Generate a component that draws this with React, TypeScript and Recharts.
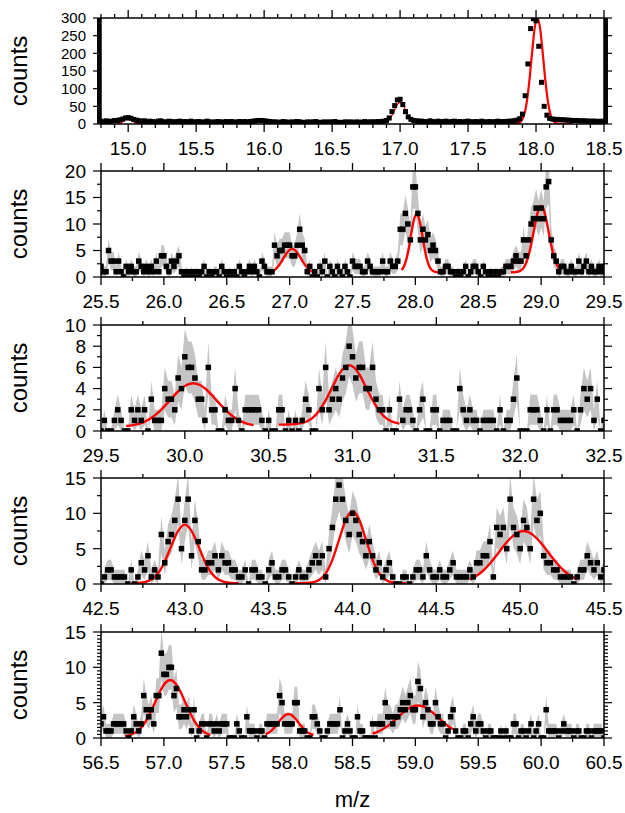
import React from 'react';
import { ComposedChart, Line, Area, XAxis, YAxis } from 'recharts';

const FONT = '"Liberation Sans", Arial, Helvetica, sans-serif';

// ---------- Panel 1 (m/z 14.8 - 18.5), counts every 0.02 ----------
const P1_X0 = 14.8;
const P1_STEP = 0.02;
const P1_COUNTS = [
  8, 6, 9, 7, 8, 10,
  10, 12, 14, 17, 18, 16, 13, 11, 9, 8,
  9, 6, 8, 7, 5, 8, 9, 6, 6, 8, 7, 5, 7, 8, 6, 7, 5, 8, 6, 6, 7, 5, 6, 8, 6, 5, 6, 7, 6, 5, 7, 6, 7, 5, 6, 7, 6, 7, 5,
  7, 8, 9, 10, 10, 9, 8, 7, 6,
  6, 5, 5, 7, 6, 4, 6, 5, 7, 6, 5, 4, 6, 5, 6, 7, 5, 4, 6, 5, 6, 5, 7, 5, 4, 5, 6, 5, 6, 4, 6, 5, 5, 7, 5, 6, 6, 6, 7, 7, 8, 10,
  17, 35, 52, 68, 70, 55, 35, 20, 13, 10, 9, 8,
  8, 7, 6, 9, 7, 6, 8, 6, 7, 8, 5, 7, 8, 6, 7, 5, 7, 8, 6, 6, 7, 5, 8, 6, 6, 7, 5, 7, 8, 6, 7, 7, 8, 8, 9, 11,
  15, 28, 80, 170, 270, 298, 292, 220, 118, 50, 25, 16, 14, 13, 13, 12, 12, 11, 11, 10, 10, 10, 9, 9, 9, 8, 8, 8, 8, 7, 8, 7,
];
const P1_X_MAJOR = [15.0, 15.5, 16.0, 16.5, 17.0, 17.5, 18.0, 18.5];
const P1_Y_MAJOR = [0, 50, 100, 150, 200, 250, 300];

// ---------- Panel 2 (m/z 25.5 - 29.5) ----------
const P2_X0 = 25.5;
const P2_STEP = 0.02;
const P2_COUNTS = [
  2, 1, 1, 5, 3, 3, 1, 3, 1, 0,
  2, 1, 2, 1, 1, 3, 2, 1, 2, 1,
  2, 1, 3, 1, 4, 4, 2, 1, 3, 2,
  3, 4, 1, 0, 1, 0, 1, 0, 1, 0,
  1, 2, 0, 1, 0, 1, 1, 0, 2, 1,
  0, 1, 0, 1, 0, 2, 1, 0, 1, 2,
  1, 2, 1, 0, 3, 2, 1, 1, 1, 6,
  4, 5, 5, 6, 6, 6, 4, 4, 6, 9,
  6, 5, 1, 2, 0, 1, 0, 2, 1, 3,
  0, 2, 1, 0, 2, 1, 0, 2, 1, 0,
  3, 2, 2, 2, 1, 1, 3, 2, 1, 1,
  1, 1, 3, 1, 1, 3, 2, 2, 3, 9,
  9, 12, 10, 7, 17, 17, 12, 7, 9, 7,
  8, 5, 6, 5, 3, 1, 1, 2, 2, 1,
  1, 0, 1, 0, 1, 2, 0, 1, 2, 2,
  1, 0, 2, 1, 0, 1, 0, 1, 0, 1,
  1, 2, 2, 2, 3, 4, 3, 3, 7, 4,
  7, 10, 11, 13, 11, 13, 11, 17, 18, 7,
  4, 3, 1, 2, 2, 1, 1, 2, 1, 1,
  3, 1, 2, 3, 1, 2, 1, 1, 2, 1,
  2,
];
const P2_X_MAJOR = [25.5, 26.0, 26.5, 27.0, 27.5, 28.0, 28.5, 29.0, 29.5];
const P2_Y_MAJOR = [0, 5, 10, 15, 20];

// ---------- Panel 3 (m/z 29.5 - 32.5) ----------
const P3_X0 = 29.5;
const P3_STEP = 0.02;
const P3_COUNTS = [
  0, 1, 0, 0, 1, 2, 1, 0, 0, 2,
  1, 2, 1, 2, 0, 3, 1, 1, 1, 4,
  3, 3, 2, 5, 4, 7, 6, 6, 5, 3,
  3, 1, 6, 2, 2, 0, 0, 2, 1, 1,
  4, 1, 0, 2, 2, 2, 2, 2, 1, 0,
  1, 0, 0, 2, 2, 0, 1, 0, 1, 0,
  1, 3, 2, 0, 0, 4, 2, 6, 2, 3,
  4, 3, 5, 6, 8, 7, 5, 6, 6, 4,
  4, 6, 3, 2, 2, 0, 2, 0, 0, 3,
  1, 2, 2, 1, 0, 2, 3, 0, 0, 2,
  2, 0, 1, 1, 1, 0, 0, 4, 2, 1,
  2, 1, 1, 0, 1, 1, 1, 1, 0, 2,
  0, 1, 1, 3, 5, 0, 0, 0, 2, 2,
  2, 1, 0, 2, 0, 2, 2, 1, 1, 1,
  1, 2, 0, 2, 4, 3, 4, 1, 3, 0,
  1,
];
const P3_X_MAJOR = [29.5, 30.0, 30.5, 31.0, 31.5, 32.0, 32.5];
const P3_Y_MAJOR = [0, 2, 4, 6, 8, 10];

// ---------- Panel 4 (m/z 42.5 - 45.5) ----------
const P4_X0 = 42.5;
const P4_STEP = 0.02;
const P4_COUNTS = [
  0, 1, 2, 2, 1, 1, 1, 1, 0, 2,
  0, 1, 3, 2, 4, 1, 2, 1, 7, 3,
  6, 7, 9, 12, 5, 9, 12, 4, 9, 6,
  2, 2, 3, 3, 4, 2, 4, 3, 3, 2,
  2, 1, 1, 2, 0, 2, 2, 1, 1, 0,
  2, 3, 1, 1, 2, 2, 1, 0, 1, 2,
  1, 1, 2, 3, 4, 3, 4, 1, 5, 8,
  12, 14, 12, 9, 7, 10, 9, 7, 6, 4,
  6, 4, 2, 3, 1, 2, 3, 1, 0, 0,
  1, 1, 0, 1, 2, 2, 1, 4, 2, 1,
  1, 2, 1, 1, 2, 3, 1, 1, 1, 1,
  2, 1, 3, 3, 4, 4, 6, 1, 8, 7,
  8, 5, 12, 8, 7, 5, 9, 8, 5, 12,
  9, 10, 4, 3, 3, 2, 2, 1, 1, 1,
  1, 0, 1, 2, 2, 4, 3, 2, 3, 1,
  2,
];
const P4_X_MAJOR = [42.5, 43.0, 43.5, 44.0, 44.5, 45.0, 45.5];
const P4_Y_MAJOR = [0, 5, 10, 15];

// ---------- Panel 5 (m/z 56.5 - 60.5) ----------
const P5_X0 = 56.5;
const P5_STEP = 0.02;
const P5_COUNTS = [
  2, 3, 1, 1, 1, 2, 2, 2, 2, 2,
  1, 0, 1, 3, 2, 1, 2, 6, 4, 3,
  4, 2, 6, 6, 12, 9, 9, 10, 10, 6,
  7, 3, 3, 4, 3, 4, 1, 4, 0, 1,
  2, 2, 0, 2, 2, 1, 2, 1, 2, 2,
  2, 0, 0, 0, 2, 1, 0, 0, 3, 1,
  1, 1, 0, 1, 1, 0, 2, 2, 2, 2,
  2, 6, 5, 2, 2, 2, 2, 5, 5, 1,
  1, 1, 0, 0, 3, 3, 2, 1, 0, 0,
  1, 2, 2, 2, 2, 4, 0, 1, 2, 1,
  0, 0, 3, 1, 1, 0, 0, 0, 2, 0,
  2, 2, 2, 5, 3, 3, 2, 3, 3, 4,
  5, 4, 5, 6, 4, 4, 8, 7, 3, 5,
  4, 2, 2, 5, 3, 2, 2, 0, 1, 3,
  4, 1, 0, 0, 1, 1, 0, 2, 3, 1,
  2, 2, 1, 0, 1, 1, 0, 0, 0, 1,
  0, 1, 0, 0, 2, 2, 0, 1, 1, 0,
  1, 2, 0, 1, 2, 0, 0, 4, 1, 1,
  1, 1, 0, 1, 2, 1, 1, 1, 0, 1,
  1, 0, 0, 1, 1, 0, 1, 1, 1, 1,
  0,
];
const P5_X_MAJOR = [56.5, 57.0, 57.5, 58.0, 58.5, 59.0, 59.5, 60.0, 60.5];
const P5_Y_MAJOR = [0, 5, 10, 15];

const FIT1A = { start: 14.92, step: 0.02, y: [2.1, 4.6, 9.1, 14.2, 16.5, 14.2, 9.1, 4.6, 2.1, 1.3] };
const FIT1B = { start: 15.89, step: 0.02, y: [1.05, 2.2, 4.4, 6.9, 8.0, 6.9, 4.4, 2.2, 1.05, 0.6] };
const FIT1C = { start: 16.74, step: 0.02, y: [0, 0, 0, 0, 0, 0.08, 0.38, 1.5, 4.6, 11.7, 24.1, 40.4, 55, 61, 55, 40.4, 24.1, 11.7, 4.6, 1.5, 0.38, 0.08, 0, 0, 0, 0] };
const FIT1D = { start: 17.77, step: 0.02, y: [0, 0, 0, 0.1, 0.4, 1.9, 7.3, 22.7, 57.3, 118.5, 198.6, 270.6, 300, 270.6, 198.6, 118.5, 57.3, 22.7, 7.3, 1.9, 0.4, 0.1, 0, 0, 0, 0] };

const FIT2A = { start: 26.84, step: 0.02, y: [0.87, 1.04, 1.32, 1.76, 2.36, 3.09, 3.87, 4.61, 5.12, 5.3, 5.12, 4.61, 3.87, 3.09, 2.36, 1.76, 1.32, 1.04, 0.87] };
const FIT2B = { start: 27.89, step: 0.02, y: [1.32, 2.04, 3.49, 5.77, 8.56, 10.94, 11.9, 10.94, 8.56, 5.77, 3.49, 2.04, 1.32, 1.03, 0.93, 0.9, 0.9, 0.9] };
const FIT2C = { start: 28.76, step: 0.02, y: [0.9, 0.91, 0.95, 1.04, 1.25, 1.73, 2.59, 4.01, 6.04, 8.49, 10.91, 12.73, 13.4, 12.73, 10.91, 8.49, 6.04, 4.01, 2.59, 1.73, 1.25] };

const FIT3A = { start: 29.65, step: 0.04, y: [0.47, 0.55, 0.7, 0.95, 1.34, 1.88, 2.53, 3.23, 3.89, 4.34, 4.5, 4.34, 3.89, 3.23, 2.53, 1.88, 1.34, 0.95, 0.7, 0.55] };
const FIT3B = { start: 30.56, step: 0.03, y: [0.6, 0.6, 0.62, 0.64, 0.7, 0.81, 1.01, 1.36, 1.89, 2.62, 3.51, 4.46, 5.36, 5.98, 6.2, 5.98, 5.36, 4.46, 3.51, 2.62, 1.89, 1.36, 1.01, 0.81, 0.7] };

const FIT4A = { start: 42.68, step: 0.04, y: [0.1, 0.14, 0.25, 0.62, 1.51, 3.16, 5.43, 7.53, 8.4, 7.53, 5.43, 3.16, 1.51, 0.62, 0.25, 0.14, 0.1] };
const FIT4B = { start: 43.64, step: 0.04, y: [0.1, 0.1, 0.12, 0.21, 0.55, 1.48, 3.42, 6.29, 9.1, 10.3, 9.1, 6.29, 3.42, 1.48, 0.55, 0.21, 0.12, 0.1] };
const FIT4C = { start: 44.7, step: 0.04, y: [0.66, 1.16, 1.91, 2.9, 4.08, 5.33, 6.44, 7.22, 7.5, 7.22, 6.44, 5.33, 4.08, 2.9, 1.91, 1.16, 0.66] };

const FIT5A = { start: 56.69, step: 0.04, y: [0.29, 0.42, 0.73, 1.28, 2.19, 3.49, 5.06, 6.61, 7.77, 8.2, 7.77, 6.61, 5.06, 3.49, 2.19, 1.28, 0.73, 0.42] };
const FIT5B = { start: 57.81, step: 0.02, y: [0.55, 0.72, 0.97, 1.31, 1.72, 2.18, 2.64, 3.03, 3.3, 3.4, 3.3, 3.03, 2.64, 2.18, 1.72, 1.31, 0.97, 0.72, 0.55, 0.44] };
const FIT5C = { start: 58.66, step: 0.04, y: [0.64, 0.88, 1.23, 1.7, 2.27, 2.91, 3.55, 4.09, 4.47, 4.6, 4.47, 4.09, 3.55, 2.91, 2.27, 1.7, 1.23] };

// ---------- helpers ----------
type Fit = { start: number; step: number; y: number[] };

const range = (a: number, b: number, s: number) => {
  const n = Math.round((b - a) / s);
  const out: number[] = [];
  for (let i = 0; i <= n; i++) out.push(+(a + i * s).toFixed(4));
  return out;
};

const toRows = (x0: number, step: number, counts: number[]) =>
  counts.map((c, i) => {
    const err = Math.sqrt(c);
    return { x: +(x0 + i * step).toFixed(4), c, band: [Math.max(0, c - err), c + err] };
  });

const fitRows = (f: Fit) => f.y.map((y, i) => ({ x: +(f.start + i * f.step).toFixed(4), y }));

const isMajor = (majors: number[], v: number) => majors.some((m) => Math.abs(m - v) < 1e-6);

const MAJOR_LEN = 8;
const MINOR_LEN = 4;
const TICK_FS = 19;

const makeXTick = (majors: number[], side: 'top' | 'bottom') => (props: any) => {
  const { x, y, payload } = props;
  const v = payload.value as number;
  const major = isMajor(majors, v);
  const len = major ? MAJOR_LEN : MINOR_LEN;
  const d = side === 'bottom' ? 1 : -1;
  return (
    <g>
      <line x1={x} x2={x} y1={y} y2={y + d * len} stroke="#000" strokeWidth={1.3} />
      {side === 'bottom' && major ? (
        <text x={x} y={y + 31} textAnchor="middle" fontSize={TICK_FS} fontFamily={FONT} fill="#000">
          {v.toFixed(1)}
        </text>
      ) : null}
    </g>
  );
};

const makeYTick = (majors: number[], side: 'left' | 'right', fs: number) => (props: any) => {
  const { x, y, payload } = props;
  const v = payload.value as number;
  const major = isMajor(majors, v);
  const len = major ? MAJOR_LEN : MINOR_LEN;
  const d = side === 'left' ? -1 : 1;
  return (
    <g>
      <line x1={x} x2={x + d * len} y1={y} y2={y} stroke="#000" strokeWidth={1.2} />
      {side === 'left' && major ? (
        <text x={x - 15} y={y + fs * 0.36} textAnchor="end" fontSize={fs} fontFamily={FONT} fill="#000">
          {String(v)}
        </text>
      ) : null}
    </g>
  );
};

const makeSquare = (size: number) => (props: any) => {
  const { cx, cy, index } = props;
  if (cx == null || cy == null || isNaN(cx) || isNaN(cy)) return <g key={index} />;
  return <rect key={index} x={cx - size / 2} y={cy - size / 2} width={size} height={size} fill="#000" />;
};

type Panel = {
  top: number;
  rows: any[];
  xDomain: [number, number];
  yDomain: [number, number];
  xMajor: number[];
  xMinorStep: number;
  yMajor: number[];
  yMinorStep: number;
  yFont: number;
  band: boolean;
  dot: number;
  fits: { f: Fit; w: number }[];
};

const PANELS: Panel[] = [
  {
    top: 18, rows: toRows(P1_X0, P1_STEP, P1_COUNTS), xDomain: [14.8, 18.5], yDomain: [0, 300],
    xMajor: P1_X_MAJOR, xMinorStep: 0.1, yMajor: P1_Y_MAJOR, yMinorStep: 2, yFont: 15, band: false, dot: 5,
    fits: [{ f: FIT1A, w: 2.8 }, { f: FIT1B, w: 2.8 }, { f: FIT1C, w: 1.2 }, { f: FIT1D, w: 2.2 }],
  },
  {
    top: 171, rows: toRows(P2_X0, P2_STEP, P2_COUNTS), xDomain: [25.5, 29.5], yDomain: [0, 20],
    xMajor: P2_X_MAJOR, xMinorStep: 0.25, yMajor: P2_Y_MAJOR, yMinorStep: 2.5, yFont: TICK_FS, band: true, dot: 5.5,
    fits: [{ f: FIT2A, w: 2.4 }, { f: FIT2B, w: 2.4 }, { f: FIT2C, w: 2.4 }],
  },
  {
    top: 325, rows: toRows(P3_X0, P3_STEP, P3_COUNTS), xDomain: [29.5, 32.5], yDomain: [0, 10],
    xMajor: P3_X_MAJOR, xMinorStep: 0.25, yMajor: P3_Y_MAJOR, yMinorStep: 1, yFont: TICK_FS, band: true, dot: 5.5,
    fits: [{ f: FIT3A, w: 2.4 }, { f: FIT3B, w: 2.4 }],
  },
  {
    top: 478, rows: toRows(P4_X0, P4_STEP, P4_COUNTS), xDomain: [42.5, 45.5], yDomain: [0, 15],
    xMajor: P4_X_MAJOR, xMinorStep: 0.25, yMajor: P4_Y_MAJOR, yMinorStep: 2.5, yFont: TICK_FS, band: true, dot: 5.5,
    fits: [{ f: FIT4A, w: 2.4 }, { f: FIT4B, w: 2.4 }, { f: FIT4C, w: 2.4 }],
  },
  {
    top: 632, rows: toRows(P5_X0, P5_STEP, P5_COUNTS), xDomain: [56.5, 60.5], yDomain: [0, 15],
    xMajor: P5_X_MAJOR, xMinorStep: 0.25, yMajor: P5_Y_MAJOR, yMinorStep: 0.5, yFont: TICK_FS, band: true, dot: 5.5,
    fits: [{ f: FIT5A, w: 2.4 }, { f: FIT5B, w: 2.4 }, { f: FIT5C, w: 2.4 }],
  },
];

const PLOT_LEFT = 101;
const PLOT_RIGHT = 604;
const PLOT_H = 106;
const MT = 12;
const MB = 44;
const AX = 1; // thickness reserved for top/bottom/right axes

const AXIS_LINE = { stroke: '#000', strokeWidth: 1.5 };

function PanelChart({ p }: { p: Panel }) {
  const xTicks = range(p.xDomain[0], p.xDomain[1], p.xMinorStep);
  const yTicks = range(p.yDomain[0], p.yDomain[1], p.yMinorStep);
  return (
    <ComposedChart
      width={625}
      height={MT + AX + PLOT_H + AX + MB}
      data={p.rows}
      margin={{ top: MT, right: 625 - PLOT_RIGHT - AX, bottom: MB, left: 0 }}
    >
      <XAxis
        xAxisId="b"
        dataKey="x"
        type="number"
        orientation="bottom"
        domain={p.xDomain}
        allowDataOverflow
        ticks={xTicks}
        interval={0}
        height={AX}
        tickSize={0}
        tickMargin={0}
        tickLine={false}
        axisLine={AXIS_LINE}
        tick={makeXTick(p.xMajor, 'bottom')}
      />
      <XAxis
        xAxisId="t"
        dataKey="x"
        type="number"
        orientation="top"
        domain={p.xDomain}
        allowDataOverflow
        ticks={xTicks}
        interval={0}
        height={AX}
        tickSize={0}
        tickMargin={0}
        tickLine={false}
        axisLine={AXIS_LINE}
        tick={makeXTick(p.xMajor, 'top')}
      />
      <YAxis
        yAxisId="l"
        type="number"
        orientation="left"
        domain={p.yDomain}
        allowDataOverflow
        ticks={yTicks}
        interval={0}
        width={PLOT_LEFT}
        tickSize={0}
        tickMargin={0}
        tickLine={false}
        axisLine={AXIS_LINE}
        tick={makeYTick(p.yMajor, 'left', p.yFont)}
      />
      <YAxis
        yAxisId="r"
        type="number"
        orientation="right"
        domain={p.yDomain}
        allowDataOverflow
        ticks={yTicks}
        interval={0}
        width={AX}
        tickSize={0}
        tickMargin={0}
        tickLine={false}
        axisLine={AXIS_LINE}
        tick={makeYTick(p.yMajor, 'right', p.yFont)}
      />
      {p.band ? (
        <Area
          xAxisId="b"
          yAxisId="l"
          dataKey="band"
          type="linear"
          stroke="none"
          fill="#c4c4c4"
          fillOpacity={1}
          isAnimationActive={false}
          activeDot={false}
        />
      ) : null}
      <Line
        xAxisId="b"
        yAxisId="l"
        dataKey="c"
        type="linear"
        stroke="none"
        dot={makeSquare(p.dot)}
        activeDot={false}
        isAnimationActive={false}
      />
      {p.fits.map((fit, k) => (
        <Line
          key={k}
          xAxisId="b"
          yAxisId="l"
          data={fitRows(fit.f)}
          dataKey="y"
          type="monotone"
          stroke="#ff0000"
          strokeWidth={fit.w}
          dot={false}
          activeDot={false}
          isAnimationActive={false}
        />
      ))}
    </ComposedChart>
  );
}

export default function App() {
  return (
    <div style={{ position: 'absolute', left: 0, top: 0, width: 625, height: 813, background: '#fff' }}>
      {PANELS.map((p, k) => (
        <React.Fragment key={k}>
          <div style={{ position: 'absolute', left: 0, top: p.top - MT - AX }}>
            <PanelChart p={p} />
          </div>
          <div
            style={{
              position: 'absolute',
              left: 19,
              top: p.top + PLOT_H / 2,
              transform: 'translate(-50%, -50%) rotate(-90deg)',
              fontFamily: FONT,
              fontSize: 24,
              whiteSpace: 'nowrap',
              lineHeight: 1,
              color: '#000',
            }}
          >
            counts
          </div>
        </React.Fragment>
      ))}
      <div
        style={{
          position: 'absolute',
          left: (PLOT_LEFT + PLOT_RIGHT) / 2,
          top: 800,
          transform: 'translate(-50%, -50%)',
          fontFamily: FONT,
          fontSize: 22,
          whiteSpace: 'nowrap',
          lineHeight: 1,
          color: '#000',
        }}
      >
        m/z
      </div>
    </div>
  );
}
